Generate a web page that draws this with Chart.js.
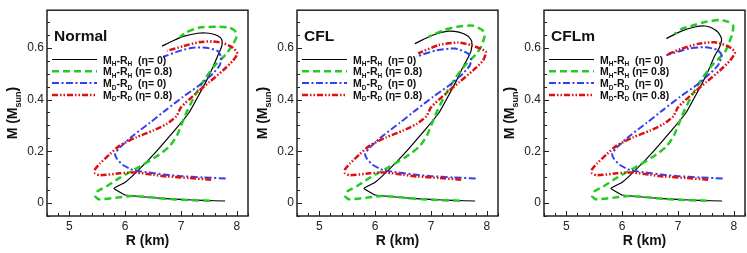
<!DOCTYPE html>
<html>
<head>
<meta charset="utf-8">
<script src="https://cdn.jsdelivr.net/npm/chart.js@4/dist/chart.umd.min.js"></script>
<style>
    html, body { margin: 0; padding: 0; background: #fff; }
    #wrap { position: relative; width: 747px; height: 253px; overflow: hidden; }
    .panel { position: absolute; top: 0; width: 250px; height: 253px; }
</style>
</head>
<body>
<div id="wrap">
    <div class="panel" style="left:0px"><canvas id="chartNormal" width="250" height="253"></canvas></div>
    <div class="panel" style="left:250px"><canvas id="chartCFL" width="250" height="253"></canvas></div>
    <div class="panel" style="left:497px"><canvas id="chartCFLm" width="250" height="253"></canvas></div>
</div>
<script>
// axes
const xTicks = [5, 6, 7, 8];
const yTicks = [0, 0.2, 0.4, 0.6];
const xRange = [4.6, 8.2];
const yRange = [-0.05, 0.745];

// panel names and legend parts
const panelTitles = ['Normal', 'CFL', 'CFLm'];
const seriesStar = ['H', 'H', 'D', 'D'];
const seriesEta = ['0', '0.8', '0', '0.8'];

// Normal : [R (km), M (Msun)]
const normalH0 = [[7.79,0.008],[7.4,0.01],[7.0,0.014],[6.6,0.019],[6.3,0.025],[6.0,0.031],[5.9,0.043],[5.80,0.057],[6.0,0.08],[6.25,0.13],[6.56,0.2],[6.85,0.272],[7.14,0.348],[7.3,0.41],[7.45,0.47],[7.56,0.52],[7.66,0.57],[7.72,0.6],[7.74,0.62],[7.71,0.638],[7.6,0.651],[7.45,0.657],[7.3,0.656],[7.04,0.644],[6.85,0.626],[6.66,0.606]];
const normalH8 = [[7.52,0.009],[7.2,0.011],[6.9,0.014],[6.6,0.019],[6.3,0.025],[6.1,0.027],[5.9,0.022],[5.7,0.017],[5.52,0.015],[5.46,0.028],[5.5,0.045],[5.67,0.065],[5.9,0.097],[6.26,0.141],[6.56,0.18],[6.79,0.218],[6.93,0.262],[7.04,0.32],[7.12,0.36],[7.27,0.424],[7.45,0.487],[7.63,0.537],[7.81,0.576],[7.93,0.613],[7.99,0.64],[7.97,0.664],[7.87,0.678],[7.63,0.681],[7.33,0.678],[7.1,0.66],[6.98,0.642]];
const normalD0 = [[7.8,0.095],[7.4,0.099],[7.0,0.104],[6.74,0.109],[6.38,0.119],[6.14,0.128],[5.96,0.147],[5.85,0.172],[5.82,0.19],[5.9,0.214],[6.14,0.26],[6.44,0.31],[6.74,0.361],[7.04,0.411],[7.33,0.455],[7.57,0.5],[7.69,0.531],[7.72,0.562],[7.66,0.587],[7.45,0.6],[7.21,0.6],[6.98,0.588],[6.68,0.565]];
const normalD8 = [[7.54,0.09],[7.15,0.097],[6.74,0.103],[6.5,0.109],[6.2,0.118],[5.9,0.115],[5.55,0.107],[5.46,0.115],[5.46,0.13],[5.55,0.153],[5.73,0.19],[5.9,0.222],[6.2,0.254],[6.5,0.28],[6.74,0.305],[6.92,0.336],[7.0,0.37],[7.27,0.424],[7.51,0.468],[7.75,0.512],[7.93,0.55],[8.01,0.577],[7.93,0.6],[7.75,0.618],[7.57,0.624],[7.33,0.622],[7.04,0.606],[6.75,0.588]];

// CFL
const cflH0 = [[7.79,0.008],[7.4,0.01],[7.0,0.014],[6.6,0.019],[6.3,0.025],[6.0,0.031],[5.9,0.043],[5.80,0.057],[6.0,0.08],[6.25,0.13],[6.56,0.2],[6.85,0.272],[7.14,0.348],[7.3,0.41],[7.45,0.47],[7.56,0.52],[7.66,0.56],[7.72,0.59],[7.73,0.625],[7.66,0.645],[7.5,0.66],[7.31,0.664],[7.05,0.65],[6.71,0.616]];
const cflH8 = [[7.52,0.009],[7.2,0.011],[6.9,0.014],[6.6,0.019],[6.3,0.025],[6.1,0.027],[5.9,0.022],[5.7,0.017],[5.52,0.015],[5.46,0.028],[5.5,0.045],[5.67,0.065],[5.9,0.097],[6.26,0.141],[6.56,0.18],[6.79,0.218],[6.93,0.262],[7.04,0.32],[7.12,0.36],[7.27,0.424],[7.45,0.487],[7.63,0.537],[7.81,0.576],[7.9,0.605],[7.96,0.645],[7.92,0.668],[7.75,0.685],[7.5,0.682],[7.25,0.67],[6.95,0.642]];
const cflD0 = [[7.8,0.095],[7.4,0.099],[7.0,0.104],[6.74,0.109],[6.38,0.119],[6.14,0.128],[5.96,0.147],[5.85,0.172],[5.82,0.19],[5.9,0.214],[6.14,0.26],[6.44,0.31],[6.74,0.361],[7.04,0.411],[7.33,0.455],[7.57,0.5],[7.69,0.53],[7.72,0.553],[7.66,0.578],[7.43,0.597],[7.1,0.59],[6.74,0.566]];
const cflD8 = [[7.54,0.09],[7.15,0.097],[6.74,0.103],[6.5,0.109],[6.2,0.118],[5.9,0.115],[5.55,0.107],[5.46,0.115],[5.46,0.13],[5.55,0.153],[5.73,0.19],[5.9,0.222],[6.2,0.254],[6.5,0.28],[6.74,0.305],[6.92,0.336],[7.0,0.37],[7.27,0.424],[7.51,0.468],[7.75,0.512],[7.93,0.55],[7.98,0.585],[7.72,0.61],[7.49,0.62],[7.13,0.61],[6.77,0.578]];

// CFLm
const cflmH0 = [[7.79,0.008],[7.4,0.01],[7.0,0.014],[6.6,0.019],[6.3,0.025],[6.0,0.031],[5.9,0.043],[5.80,0.057],[6.0,0.08],[6.25,0.13],[6.56,0.2],[6.85,0.272],[7.14,0.348],[7.3,0.41],[7.45,0.47],[7.56,0.52],[7.66,0.57],[7.74,0.6],[7.78,0.634],[7.72,0.659],[7.6,0.677],[7.48,0.684],[7.3,0.68],[7.06,0.664],[6.79,0.636]];
const cflmH8 = [[7.52,0.009],[7.2,0.011],[6.9,0.014],[6.6,0.019],[6.3,0.025],[6.1,0.027],[5.9,0.022],[5.7,0.017],[5.52,0.015],[5.46,0.028],[5.5,0.045],[5.67,0.065],[5.9,0.097],[6.26,0.141],[6.56,0.18],[6.79,0.218],[6.93,0.262],[7.04,0.32],[7.12,0.36],[7.27,0.424],[7.45,0.487],[7.63,0.537],[7.84,0.583],[7.96,0.646],[7.99,0.684],[7.9,0.7],[7.75,0.707],[7.5,0.7],[7.25,0.685],[7.06,0.672],[6.94,0.653]];
const cflmD0 = [[7.8,0.095],[7.4,0.099],[7.0,0.104],[6.74,0.109],[6.38,0.119],[6.14,0.128],[5.96,0.147],[5.85,0.172],[5.82,0.19],[5.9,0.214],[6.14,0.26],[6.44,0.31],[6.74,0.361],[7.04,0.411],[7.33,0.455],[7.57,0.5],[7.72,0.533],[7.78,0.571],[7.7,0.592],[7.48,0.602],[7.2,0.597],[6.79,0.571]];
const cflmD8 = [[7.54,0.09],[7.15,0.097],[6.74,0.103],[6.5,0.109],[6.2,0.118],[5.9,0.115],[5.55,0.107],[5.46,0.115],[5.46,0.13],[5.55,0.153],[5.73,0.19],[5.9,0.222],[6.2,0.254],[6.5,0.28],[6.74,0.305],[6.92,0.336],[7.0,0.37],[7.27,0.424],[7.51,0.468],[7.75,0.512],[7.93,0.55],[8.02,0.583],[7.9,0.605],[7.66,0.621],[7.36,0.615],[7.06,0.596],[6.82,0.575]];

class MassRadius {

    static font = "'Liberation Sans', Arial, sans-serif";

    static pointers = ['chartNormal', 'chartCFL', 'chartCFLm'];

    static panelData = [
        [normalH0, normalH8, normalD0, normalD8],
        [cflH0, cflH8, cflD0, cflD8],
        [cflmH0, cflmH8, cflmD0, cflmD8],
    ]

    // line styles, same order as the legend
    static styles = [
        { borderColor: '#000000', borderWidth: 1.2, borderDash: [], order: 3 },
        { borderColor: '#22cc22', borderWidth: 2.5, borderDash: [7, 4], order: 2 },
        { borderColor: '#3340ee', borderWidth: 2, borderDash: [7, 2.5, 2, 2.5], order: 1 },
        { borderColor: '#dd1111', borderWidth: 2.5, borderDash: [6, 2, 1.5, 2, 1.5, 2], order: 0 },
    ]

    // write a run of text and return where the next one starts
    static run = (ctx, text, x, y, size, bold = true) => {
        ctx.font = `${bold ? 'bold ' : ''}${size}px ${this.font}`;
        ctx.fillText(text, x, y);
        return x + ctx.measureText(text).width;
    }

    // frame and inward tick marks
    static drawFrame = (chart) => {
        const ctx = chart.ctx;
        const a = chart.chartArea;
        const xs = chart.scales.x, ys = chart.scales.y;
        ctx.save();
        ctx.strokeStyle = '#222';
        ctx.lineWidth = 1.5;
        ctx.strokeRect(a.left, a.top, a.right - a.left, a.bottom - a.top);
        ctx.lineWidth = 1;
        ctx.beginPath();
        for (let i = 0; i <= 18; i++) {
            const v = xRange[0] + i * 0.2;
            const px = Math.round(xs.getPixelForValue(v)) + 0.5;
            const len = xTicks.some(t => Math.abs(t - v) < 1e-6) ? 5 : 3;
            ctx.moveTo(px, a.bottom);
            ctx.lineTo(px, a.bottom - len);
        }
        for (let i = 0; i <= 15; i++) {
            const v = -0.05 + i * 0.05;
            const py = Math.round(ys.getPixelForValue(v)) + 0.5;
            const len = yTicks.some(t => Math.abs(t - v) < 1e-6) ? 5 : 3;
            ctx.moveTo(a.left, py);
            ctx.lineTo(a.left + len, py);
        }
        ctx.stroke();
        ctx.restore();
    }

    // axis titles, panel title and legend
    static drawTexts = (chart, index) => {
        const ctx = chart.ctx;
        const a = chart.chartArea;
        ctx.save();
        ctx.fillStyle = '#111';
        ctx.textBaseline = 'alphabetic';

        // x title
        ctx.font = `bold 14px ${this.font}`;
        ctx.textAlign = 'center';
        ctx.fillText('R (km)', (a.left + a.right) / 2, 245);
        ctx.textAlign = 'left';

        // y title, rotated, with subscript
        ctx.save();
        ctx.translate(17, (a.top + a.bottom) / 2);
        ctx.rotate(-Math.PI / 2);
        ctx.font = `bold 14px ${this.font}`;
        const w1 = ctx.measureText('M (M').width;
        ctx.font = `bold 9px ${this.font}`;
        const w2 = ctx.measureText('sun').width;
        ctx.font = `bold 14px ${this.font}`;
        const w3 = ctx.measureText(')').width;
        let x = -(w1 + w2 + w3) / 2;
        x = this.run(ctx, 'M (M', x, 0, 14);
        x = this.run(ctx, 'sun', x, 4, 9);
        this.run(ctx, ')', x, 0, 14);
        ctx.restore();

        // panel title
        this.run(ctx, panelTitles[index], 54, 41, 15.5);

        // legend
        chart.data.datasets.forEach((ds, i) => {
            const y = 59.5 + i * 11.8;
            ctx.save();
            ctx.strokeStyle = ds.borderColor;
            ctx.lineWidth = ds.borderWidth;
            ctx.setLineDash(ds.borderDash);
            ctx.beginPath();
            ctx.moveTo(52, y);
            ctx.lineTo(97, y);
            ctx.stroke();
            ctx.restore();

            let tx = 103;
            const base = y + 4;
            tx = this.run(ctx, 'M', tx, base, 10.5);
            tx = this.run(ctx, seriesStar[i], tx, base + 2.5, 6.5);
            tx = this.run(ctx, '-R', tx, base, 10.5);
            tx = this.run(ctx, seriesStar[i], tx, base + 2.5, 6.5);
            tx = this.run(ctx, (seriesEta[i] === '0' ? '  ' : ' ') + '(η= ' + seriesEta[i] + ')', tx, base, 10.5);
        });
        ctx.restore();
    }

    static buildChart = (index) => {
        const datasets = this.panelData[index].map((points, i) => ({
            data: points.map(p => ({ x: p[0], y: p[1] })),
            showLine: true,
            fill: false,
            pointRadius: 0,
            tension: 0.2,
            ...this.styles[i]
        }));

        const tickFont = { family: this.font, size: 12 };

        new Chart(document.getElementById(this.pointers[index]), {
            type: 'scatter',
            data: { datasets: datasets },
            options: {
                responsive: false,
                animation: false,
                devicePixelRatio: 1,
                layout: { padding: { top: 5, right: 2, left: 0, bottom: 0 } },
                plugins: {
                    legend: { display: false },
                    tooltip: { enabled: false },
                },
                scales: {
                    x: {
                        type: 'linear',
                        min: xRange[0],
                        max: xRange[1],
                        afterBuildTicks: (scale) => { scale.ticks = xTicks.map(v => ({ value: v })); },
                        afterFit: (scale) => { scale.height = 37; },
                        grid: { display: false, drawTicks: false },
                        border: { display: false },
                        ticks: { font: tickFont, color: '#222', padding: 3, maxRotation: 0 },
                    },
                    y: {
                        type: 'linear',
                        min: yRange[0],
                        max: yRange[1],
                        afterBuildTicks: (scale) => { scale.ticks = yTicks.map(v => ({ value: v })); },
                        afterFit: (scale) => { scale.width = 47; },
                        grid: { display: false, drawTicks: false },
                        border: { display: false },
                        ticks: {
                            font: tickFont, color: '#222', padding: 3,
                            callback: (v) => v === 0 ? '0' : v.toFixed(1)
                        },
                    }
                }
            },
            plugins: [{
                id: 'tecplotFrame',
                afterDraw: (chart) => {
                    this.drawFrame(chart);
                    this.drawTexts(chart, index);
                }
            }]
        });
    }

    static init = () => {
        this.pointers.forEach((p, i) => this.buildChart(i));
    }
}

MassRadius.init();
</script>
</body>
</html>
